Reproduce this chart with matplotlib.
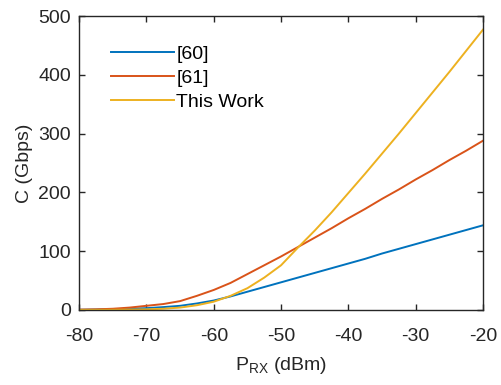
import matplotlib
matplotlib.use("Agg")
import matplotlib.pyplot as plt

plt.rcParams['font.family'] = ['Liberation Sans', 'DejaVu Sans']
plt.rcParams['mathtext.default'] = 'regular'
plt.rcParams['axes.unicode_minus'] = False

# Received optical power (dBm)
p_rx = [-80, -77.5, -75, -72.5, -70, -67.5, -65, -62.5, -60, -57.5, -55, -52.5,
        -50, -47.5, -45, -42.5, -40, -37.5, -35, -32.5, -30, -27.5, -25, -22.5, -20]

# Capacity (Gbps)
cap_ref60 = [0.3, 0.7, 1.3, 2, 3, 4.8, 7, 11, 16, 23, 31, 39,
             47, 55, 63, 71, 79, 87, 96, 104, 112, 120, 128, 136, 144]
cap_ref61 = [0.5, 1, 2, 4, 7, 10, 15, 24, 34, 46, 61, 76,
             91, 107, 123, 139, 156, 172, 189, 205, 222, 238, 255, 271, 288]
cap_this = [0, 0.1, 0.3, 0.6, 1, 2, 4, 8, 14, 24, 37, 55,
            76, 106, 135, 166, 199, 232, 266, 300, 335, 370, 405, 441, 477]

labels = ['[60]', '[61]', 'This Work']
colors = ['#0072BD', '#D95319', '#EDB120']

fs = 14
fig = plt.figure(figsize=(5.01, 3.85), dpi=100)
ax = fig.add_axes([0.158, 0.195, 0.806, 0.763])

for y, lab, c in zip([cap_ref60, cap_ref61, cap_this], labels, colors):
    ax.plot(p_rx, y, color=c, lw=1.4, label=lab)

ax.set_xlim(-80, -20)
ax.set_ylim(0, 500)
ax.set_xticks(range(-80, -19, 10))
ax.set_yticks(range(0, 501, 100))

axis_col = '#262626'
for s in ax.spines.values():
    s.set_color(axis_col)
    s.set_linewidth(1.0)
ax.tick_params(direction='in', length=4, width=1.0, colors=axis_col,
               labelcolor='#262626', labelsize=fs, top=True, right=True)
ax.tick_params(axis='x', pad=13)
ax.tick_params(axis='y', pad=6)

ax.set_xlabel(r'P$_{RX}$ (dBm)', fontsize=fs, color='#262626', labelpad=7)
ax.set_ylabel('C (Gbps)', fontsize=fs, color='#262626', labelpad=4)

leg = ax.legend(loc='upper left', bbox_to_anchor=(0.079, 0.90), frameon=False,
                fontsize=fs, handlelength=3.25, handletextpad=0.1,
                labelspacing=0.33, borderaxespad=0, borderpad=0)

fig.savefig('out.png', dpi=100)
